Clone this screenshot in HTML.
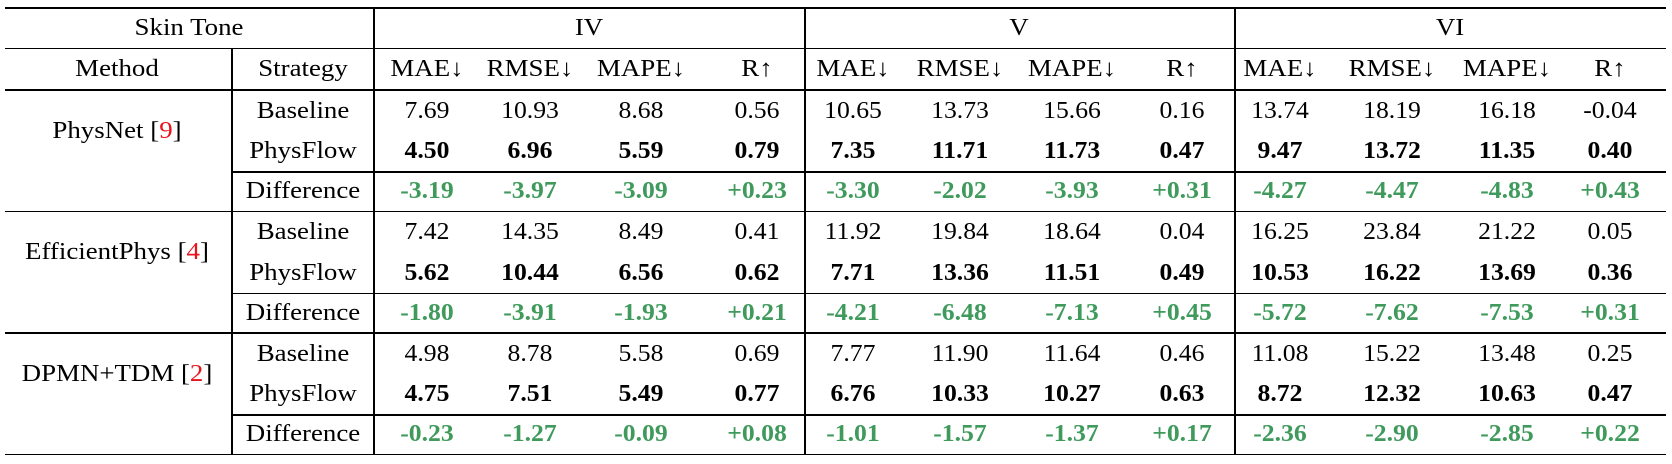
<!DOCTYPE html>
<html><head><meta charset="utf-8">
<style>
html,body{margin:0;padding:0;background:#fff;}
#wrap{position:relative;width:1672px;height:464px;overflow:hidden;font-family:"Liberation Serif",serif;font-size:24px;color:#000;}
.t{position:absolute;transform:translate(-50%,-50%) scaleX(1.07);white-space:nowrap;line-height:1;}
.w{transform:translate(-50%,-50%) scaleX(1.12);}
.b{font-weight:bold;}
.g{color:#3f9a5c;font-weight:bold;}
.r{color:#e8141c;}
.h{position:absolute;height:1.6px;background:#000;}
.v{position:absolute;width:1.6px;background:#000;}
</style></head>
<body>
<div id="wrap"></div>
<script>
const groups=["IV","V","VI"];
const metrics=["MAE↓","RMSE↓","MAPE↓","R↑"];
const methods=["PhysNet","EfficientPhys","DPMN+TDM"];
const refs=["9","4","2"];
const strategies=["Baseline","PhysFlow","Difference"];
const baseline=[
["7.69","10.93","8.68","0.56","10.65","13.73","15.66","0.16","13.74","18.19","16.18","-0.04"],
["7.42","14.35","8.49","0.41","11.92","19.84","18.64","0.04","16.25","23.84","21.22","0.05"],
["4.98","8.78","5.58","0.69","7.77","11.90","11.64","0.46","11.08","15.22","13.48","0.25"]];
const physflow=[
["4.50","6.96","5.59","0.79","7.35","11.71","11.73","0.47","9.47","13.72","11.35","0.40"],
["5.62","10.44","6.56","0.62","7.71","13.36","11.51","0.49","10.53","16.22","13.69","0.36"],
["4.75","7.51","5.49","0.77","6.76","10.33","10.27","0.63","8.72","12.32","10.63","0.47"]];
const diff=[
["-3.19","-3.97","-3.09","+0.23","-3.30","-2.02","-3.93","+0.31","-4.27","-4.47","-4.83","+0.43"],
["-1.80","-3.91","-1.93","+0.21","-4.21","-6.48","-7.13","+0.45","-5.72","-7.62","-7.53","+0.31"],
["-0.23","-1.27","-0.09","+0.08","-1.01","-1.57","-1.37","+0.17","-2.36","-2.90","-2.85","+0.22"]];

const W=document.getElementById('wrap');
const colX=[427,530,641,757,853,960,1072,1182,1280,1392,1507,1610];
function txt(s,x,y,cls,name){
  const d=document.createElement('div');
  d.className='t '+(cls||'');
  d.innerHTML=s;
  d.style.left=x+'px';d.style.top=y+'px';
  
  
  W.appendChild(d);
}
function line(cls,x,y,len,name){
  const d=document.createElement('div');
  d.className=cls;
  d.style.left=x+'px';d.style.top=y+'px';
  if(cls==='h')d.style.width=len+'px';else d.style.height=len+'px';
  
  
  W.appendChild(d);
}
const L=5,R=1666,T=7,B=454;
line('h',L,T,R-L,'top-rule');
line('h',L,47.5,R-L,'header-rule-1');
line('h',L,89,R-L,'header-rule-2');
for(let g=0;g<3;g++){
  const y0=89+g*121.6;
  line('h',231,y0+82,R-231,'difference-rule');
  line('h',L,y0+121.6,R-L,'group-rule');
}
line('v',231,47.5,B-47.5+1,'method-divider');
line('v',373,T,B-T+1,'strategy-divider');
line('v',804,T,B-T+1,'iv-divider');
line('v',1234,T,B-T+1,'v-divider');
txt('Skin Tone',189,28,'w','skin-tone-header');
const gx=[589,1019,1450];
groups.forEach((g,i)=>txt(g,gx[i],28,'w','group-header-'+g));
txt('Method',117,69,'w','method-header');
txt('Strategy',303,69,'w','strategy-header');
colX.forEach((x,i)=>txt(metrics[i%4],x,69,'w','metric-header'));
for(let m=0;m<3;m++){
  const y0=89+m*121.6;
  txt(methods[m]+' [<span class="r">'+refs[m]+'</span>]',117,y0+41.5,'w','method-name');
  const ys=[y0+21.5,y0+62,y0+102];
  strategies.forEach((s,i)=>txt(s,303,ys[i],'w','strategy-label'));
  colX.forEach((x,i)=>{
    txt(baseline[m][i],x,ys[0],'','baseline-value');
    txt(physflow[m][i],x,ys[1],'b','physflow-value');
    txt(diff[m][i],x,ys[2],'g','difference-value');
  });
}
</script>
</body></html>
